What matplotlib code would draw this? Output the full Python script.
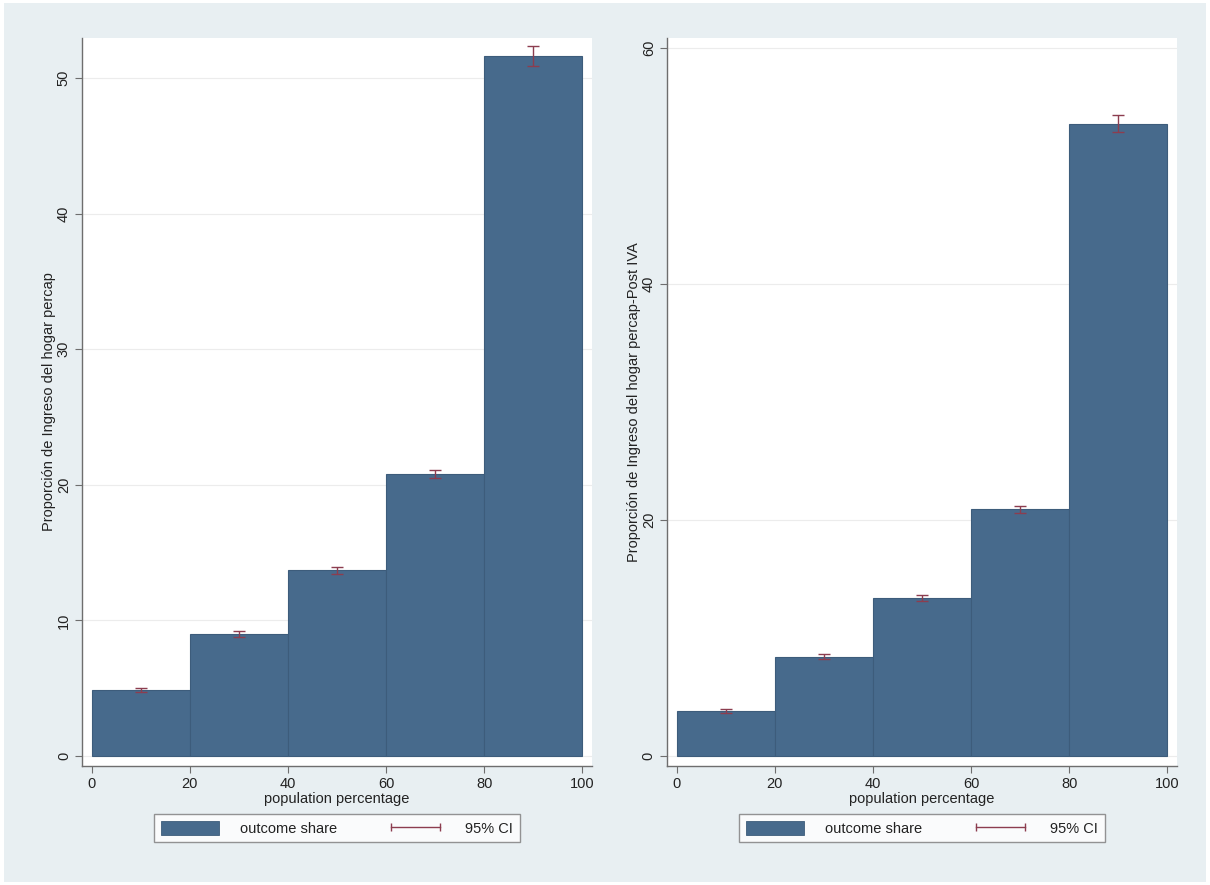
import matplotlib
matplotlib.use("Agg")
import matplotlib.pyplot as plt
from matplotlib.patches import Patch, Rectangle
from matplotlib.lines import Line2D

plt.rcParams['font.family'] = ['Liberation Sans', 'DejaVu Sans']

# Quintile shares of household per-capita income (before and after VAT)
quintile_mid = [10, 30, 50, 70, 90]
share_pre = [4.87, 9.0, 13.7, 20.8, 51.6]
ci_pre = [0.15, 0.2, 0.25, 0.3, 0.75]
share_post = [3.8, 8.4, 13.4, 20.9, 53.6]
ci_post = [0.2, 0.2, 0.25, 0.3, 0.75]
x_ticks = [0, 20, 40, 60, 80, 100]
yticks_pre = [0, 10, 20, 30, 40, 50]
yticks_post = [0, 20, 40, 60]
ylabel_pre = "Proporción de Ingreso del hogar percap"
ylabel_post = "Proporción de Ingreso del hogar percap-Post IVA"

BG = "#e8eff2"
BAR = "#476a8c"
BAR_EDGE = "#3d5c7b"
CI_COL = "#8c3d4f"
AX_COL = "#6e6e6e"
TXT = "#222222"

fig = plt.figure(figsize=(12.1, 8.85), dpi=100)
fig.patch.set_facecolor("white")
fig.add_artist(Rectangle((0.003, 0.003), 0.994, 0.994, transform=fig.transFigure,
                         facecolor=BG, edgecolor="none", zorder=-10))

panels = [
    (0.0678, share_pre, ci_pre, yticks_pre, (-0.74, 52.95), ylabel_pre),
    (0.5512, share_post, ci_post, yticks_post, (-0.85, 60.85), ylabel_post),
]

for left, share, ci, yt, ylim, ylab in panels:
    ax = fig.add_axes([left, 0.1345, 0.4215, 0.8226])
    ax.set_facecolor("white")
    ax.bar(quintile_mid, share, width=20, color=BAR, edgecolor=BAR_EDGE,
           linewidth=0.8, zorder=2)
    ax.errorbar(quintile_mid, share, yerr=ci, fmt="none", ecolor=CI_COL,
                elinewidth=1.0, capsize=4, capthick=1.0, zorder=3)
    ax.set_xlim(-2, 102)
    ax.set_ylim(*ylim)
    ax.set_xticks(x_ticks)
    ax.set_yticks(yt)
    ax.yaxis.grid(True, color="#ececec", linewidth=0.8, zorder=0)
    ax.set_axisbelow(True)
    for s in ("top", "right"):
        ax.spines[s].set_visible(False)
    for s in ("left", "bottom"):
        ax.spines[s].set_color(AX_COL)
        ax.spines[s].set_linewidth(1.0)
    ax.tick_params(axis="both", direction="out", length=5, width=0.8,
                   color=AX_COL, labelsize=10.5, labelcolor=TXT, pad=3)
    plt.setp(ax.get_yticklabels(), rotation=90, va="center")
    ax.set_xlabel("population percentage", fontsize=10.5, color=TXT, labelpad=1)
    ax.set_ylabel(ylab, fontsize=10.5, color=TXT, labelpad=0.5)

    handles = [
        Patch(facecolor=BAR, edgecolor=BAR_EDGE, linewidth=0.6),
        Line2D([], [], color=CI_COL, linewidth=1.0, marker="|",
               markersize=6, markeredgewidth=1.0),
    ]
    leg = ax.legend(handles, ["outcome share", "95% CI"], loc="center",
                    bbox_to_anchor=(0.5, -0.0855), bbox_transform=ax.transAxes,
                    ncol=2, numpoints=2, frameon=True, fancybox=False,
                    fontsize=10.5, handlelength=4.0, handleheight=1.2,
                    handletextpad=1.4, columnspacing=3.4, borderpad=0.45,
                    borderaxespad=0)
    leg.get_frame().set_edgecolor("#7a7a7a")
    leg.get_frame().set_linewidth(1.0)
    for t in leg.get_texts():
        t.set_color(TXT)

fig.savefig("out.png", dpi=100, facecolor=fig.get_facecolor())
